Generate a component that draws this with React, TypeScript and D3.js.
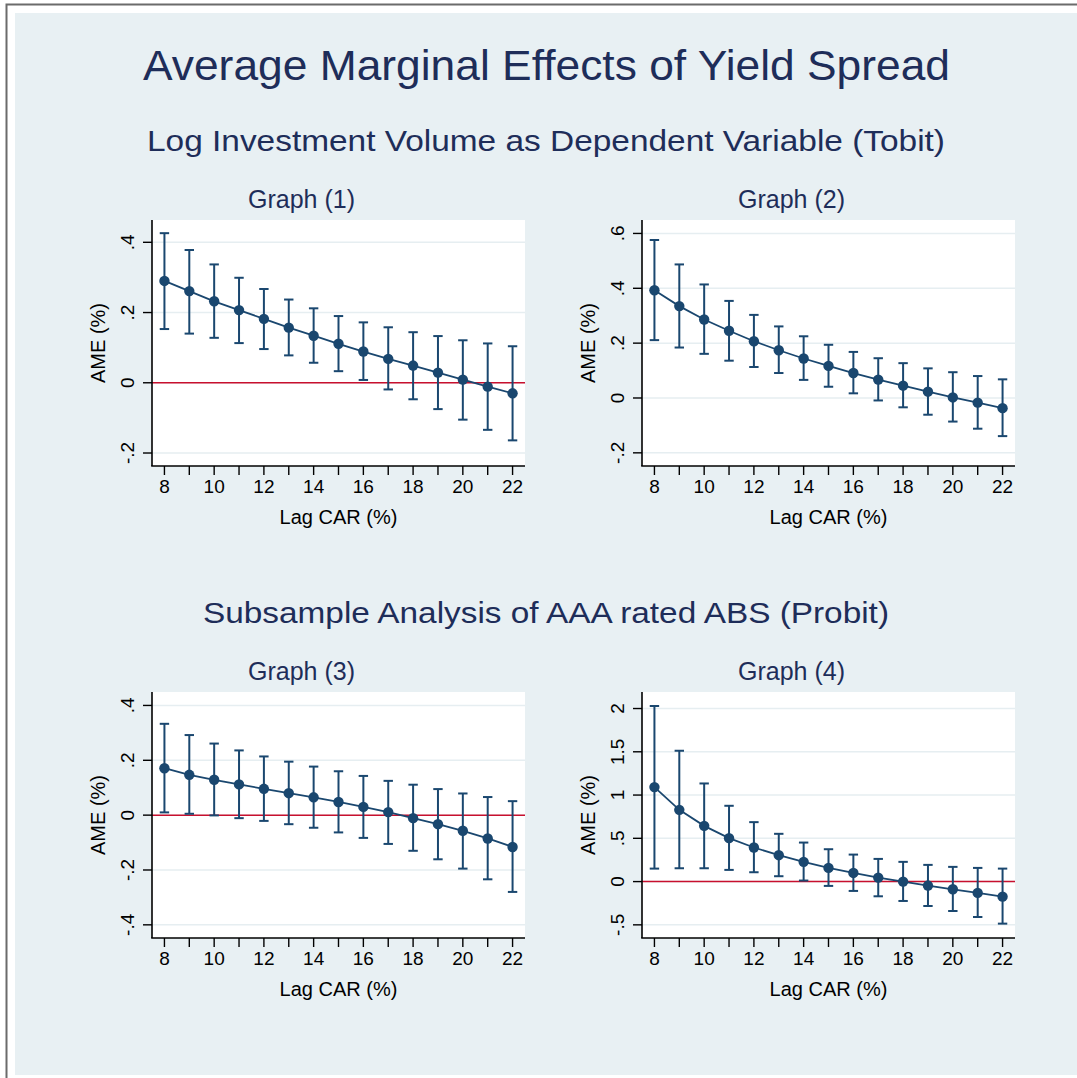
import React, { useEffect, useRef } from 'react';
import * as d3 from 'd3';

// lagged capital adequacy ratio (x values, same for all four graphs)
const lagCar = [8, 9, 10, 11, 12, 13, 14, 15, 16, 17, 18, 19, 20, 21, 22];
const xTicks = [8, 10, 12, 14, 16, 18, 20, 22];

// Graph (1)
const ame1 = [0.290, 0.261, 0.232, 0.207, 0.182, 0.157, 0.134, 0.111, 0.089, 0.068, 0.049, 0.029, 0.009, -0.011, -0.030];
const lo1 = [0.153, 0.140, 0.128, 0.113, 0.096, 0.078, 0.057, 0.033, 0.008, -0.019, -0.047, -0.075, -0.105, -0.134, -0.164];
const hi1 = [0.426, 0.378, 0.337, 0.299, 0.267, 0.237, 0.212, 0.190, 0.172, 0.158, 0.144, 0.133, 0.121, 0.112, 0.104];

// Graph (2)
const ame2 = [0.393, 0.335, 0.286, 0.245, 0.207, 0.174, 0.144, 0.117, 0.091, 0.067, 0.045, 0.023, 0.002, -0.017, -0.037];
const lo2 = [0.211, 0.184, 0.161, 0.136, 0.113, 0.091, 0.066, 0.041, 0.017, -0.009, -0.034, -0.061, -0.086, -0.112, -0.139];
const hi2 = [0.576, 0.487, 0.414, 0.354, 0.303, 0.261, 0.225, 0.194, 0.168, 0.145, 0.127, 0.108, 0.094, 0.080, 0.068];

// Graph (3)
const ame3 = [0.171, 0.147, 0.129, 0.112, 0.096, 0.080, 0.065, 0.048, 0.030, 0.011, -0.011, -0.033, -0.057, -0.085, -0.116];
const lo3 = [0.010, 0.005, -0.001, -0.011, -0.021, -0.033, -0.046, -0.063, -0.083, -0.105, -0.130, -0.161, -0.195, -0.234, -0.280];
const hi3 = [0.333, 0.292, 0.261, 0.236, 0.214, 0.195, 0.177, 0.160, 0.143, 0.125, 0.111, 0.095, 0.079, 0.066, 0.051];

// Graph (4)
const ame4 = [1.092, 0.829, 0.644, 0.502, 0.394, 0.305, 0.228, 0.158, 0.100, 0.046, 0.000, -0.046, -0.089, -0.131, -0.174];
const lo4 = [0.150, 0.154, 0.154, 0.135, 0.108, 0.062, 0.012, -0.050, -0.108, -0.170, -0.224, -0.282, -0.340, -0.409, -0.486];
const hi4 = [2.029, 1.512, 1.134, 0.876, 0.687, 0.552, 0.451, 0.374, 0.312, 0.262, 0.228, 0.193, 0.170, 0.158, 0.150];

const yTicks1 = [-0.2, 0, 0.2, 0.4];
const yTicks2 = [-0.2, 0, 0.2, 0.4, 0.6];
const yTicks3 = [-0.4, -0.2, 0, 0.2, 0.4];
const yTicks4 = [-0.5, 0, 0.5, 1, 1.5, 2];

const mainTitle = 'Average Marginal Effects of Yield Spread';
const subTitle1 = 'Log Investment Volume as Dependent Variable (Tobit)';
const subTitle2 = 'Subsample Analysis of AAA rated ABS (Probit)';

const FONT = 'Liberation Sans, Arial, Helvetica, sans-serif';
const NAVY = '#1a476f';
const TITLE = '#1e2d59';

// Stata style labels: .4, -.2, 1.5
const fmt = (v: number) => String(+v.toFixed(2)).replace(/^(-?)0\./, '$1.');

const App = () => {
  const ref = useRef<SVGSVGElement>(null);

  useEffect(() => {
    const svg = d3.select(ref.current);
    svg.selectAll('*').remove();

    // outer frame + graph region
    svg.append('rect').attr('x', 0).attr('y', 0).attr('width', 1077).attr('height', 1078).attr('fill', '#fff');
    svg.append('path').attr('d', 'M6.5,1078 V4.5 H1077').attr('fill', 'none').attr('stroke', '#6b6b6b').attr('stroke-width', 2);
    svg.append('rect').attr('x', 15).attr('y', 13).attr('width', 1062).attr('height', 1062).attr('fill', '#e8f0f3');

    const text = (x: number, y: number, s: string, size: number, color: string, len: number) =>
      svg.append('text').attr('x', x).attr('y', y).attr('text-anchor', 'middle')
        .attr('font-family', FONT).attr('font-size', size).attr('fill', color)
        .attr('textLength', len).attr('lengthAdjust', 'spacingAndGlyphs').text(s);

    text(546.5, 80, mainTitle, 42, TITLE, 807);
    text(546, 151, subTitle1, 29.5, TITLE, 798);
    text(546, 623, subTitle2, 29.5, TITLE, 686);

    const panels = [
      { title: 'Graph (1)', x0: 152, y0: 220, ame: ame1, lo: lo1, hi: hi1, ticks: yTicks1, dom: [-0.237, 0.4635], zero: true },
      { title: 'Graph (2)', x0: 642, y0: 220, ame: ame2, lo: lo2, hi: hi2, ticks: yTicks2, dom: [-0.248, 0.649], zero: false },
      { title: 'Graph (3)', x0: 152, y0: 692, ame: ame3, lo: lo3, hi: hi3, ticks: yTicks3, dom: [-0.448, 0.449], zero: true },
      { title: 'Graph (4)', x0: 642, y0: 692, ame: ame4, lo: lo4, hi: hi4, ticks: yTicks4, dom: [-0.652, 2.191], zero: true },
    ];
    const pw = 373;
    const ph = 246;

    panels.forEach(p => {
      const g = svg.append('g').attr('transform', `translate(${p.x0},${p.y0})`);
      const x = d3.scaleLinear().domain([7.5, 22.5]).range([0, pw]);
      const y = d3.scaleLinear().domain(p.dom).range([ph, 0]);

      g.append('rect').attr('width', pw).attr('height', ph).attr('fill', '#fff');

      // gridlines
      g.selectAll('.grid').data(p.ticks).join('line')
        .attr('x1', 0).attr('x2', pw)
        .attr('y1', d => y(d)).attr('y2', d => y(d))
        .attr('stroke', '#e6eef1').attr('stroke-width', 1.5);

      if (p.zero) {
        g.append('line').attr('x1', 0).attr('x2', pw).attr('y1', y(0)).attr('y2', y(0))
          .attr('stroke', '#c8102e').attr('stroke-width', 1.5);
      }

      // confidence intervals
      const ci = g.append('g').attr('stroke', NAVY).attr('stroke-width', 2).attr('fill', 'none');
      lagCar.forEach((c, i) => {
        const cx = x(c);
        ci.append('line').attr('x1', cx).attr('x2', cx).attr('y1', y(p.lo[i])).attr('y2', y(p.hi[i]));
        ci.append('line').attr('x1', cx - 4.7).attr('x2', cx + 4.7).attr('y1', y(p.lo[i])).attr('y2', y(p.lo[i]));
        ci.append('line').attr('x1', cx - 4.7).attr('x2', cx + 4.7).attr('y1', y(p.hi[i])).attr('y2', y(p.hi[i]));
      });

      const line = d3.line<number>().x((d, i) => x(lagCar[i])).y(d => y(d));
      g.append('path').datum(p.ame).attr('fill', 'none').attr('stroke', NAVY).attr('stroke-width', 1.8).attr('d', line);
      g.selectAll('.pt').data(p.ame).join('circle')
        .attr('cx', (d, i) => x(lagCar[i])).attr('cy', d => y(d)).attr('r', 5.2).attr('fill', NAVY);

      // axes
      g.append('line').attr('x1', 0).attr('x2', 0).attr('y1', 0).attr('y2', ph).attr('stroke', '#000').attr('stroke-width', 1.6);
      g.append('line').attr('x1', -0.8).attr('x2', pw).attr('y1', ph).attr('y2', ph).attr('stroke', '#000').attr('stroke-width', 1.6);

      g.selectAll('.xt').data(lagCar).join('line')
        .attr('x1', d => x(d)).attr('x2', d => x(d)).attr('y1', ph).attr('y2', ph + 9)
        .attr('stroke', '#000').attr('stroke-width', 1.4);
      g.selectAll('.xl').data(xTicks).join('text')
        .attr('x', d => x(d)).attr('y', ph + 27).attr('text-anchor', 'middle')
        .attr('font-family', FONT).attr('font-size', 19).attr('fill', '#000').text(d => String(d));

      g.selectAll('.yt').data(p.ticks).join('line')
        .attr('x1', -9).attr('x2', 0).attr('y1', d => y(d)).attr('y2', d => y(d))
        .attr('stroke', '#000').attr('stroke-width', 1.4);
      g.selectAll('.yl').data(p.ticks).join('text')
        .attr('transform', d => `translate(-18.5,${y(d)}) rotate(-90)`).attr('text-anchor', 'middle')
        .attr('font-family', FONT).attr('font-size', 19).attr('fill', '#000').text(d => fmt(d));

      g.append('text').attr('transform', `translate(-47,${ph / 2}) rotate(-90)`).attr('text-anchor', 'middle')
        .attr('font-family', FONT).attr('font-size', 20).attr('fill', '#000').text('AME (%)');
      g.append('text').attr('x', pw / 2).attr('y', ph + 57.5).attr('text-anchor', 'middle')
        .attr('font-family', FONT).attr('font-size', 20).attr('fill', '#000').text('Lag CAR (%)');

      g.append('text').attr('x', pw / 2 - 37).attr('y', -12).attr('text-anchor', 'middle')
        .attr('font-family', FONT).attr('font-size', 25).attr('fill', TITLE).text(p.title);
    });
  }, []);

  return <svg ref={ref} width={1077} height={1078} style={{ position: 'absolute', left: 0, top: 0 }} />;
};

export default App;
